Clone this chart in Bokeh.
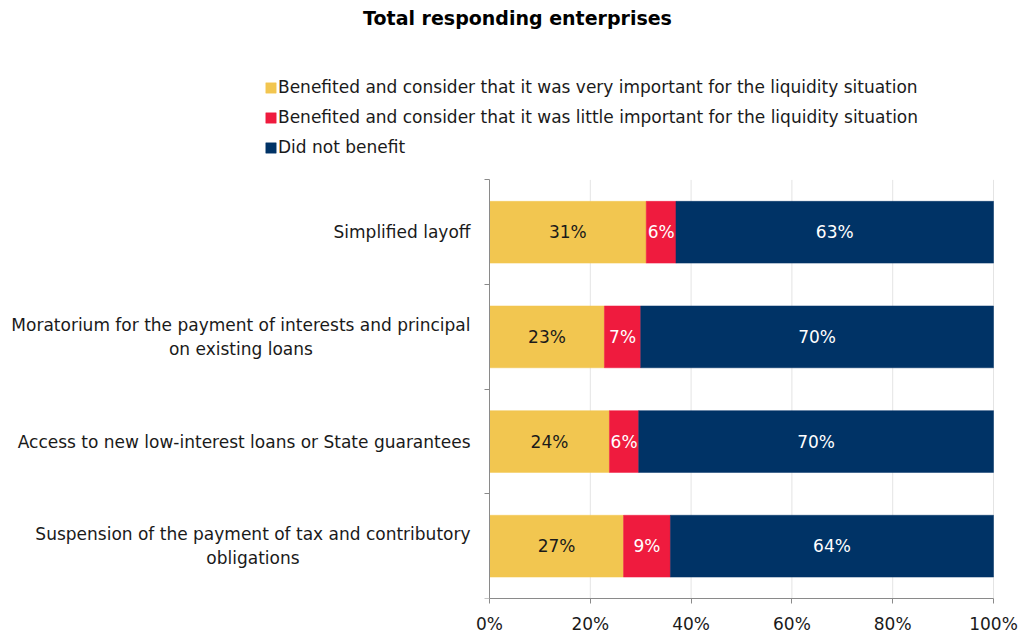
from bokeh.plotting import figure
from bokeh.models import (Range1d, FixedTicker, Legend, LegendItem, ColumnDataSource)
from bokeh.core.properties import value
from bokeh.embed import file_html
from bokeh.resources import INLINE

# ---------------- data ----------------
title_text = "Total responding enterprises"
categories = [
    "Simplified layoff",
    "Moratorium for the payment of interests and principal\non existing loans",
    "Access to new low-interest loans or State guarantees",
    "Suspension of the payment of tax and contributory\nobligations",
]
series_names = [
    "Benefited and consider that it was very important for the liquidity situation",
    "Benefited and consider that it was little important for the liquidity situation",
    "Did not benefit",
]
very_important = [31.1, 22.8, 23.8, 26.6]
little_important = [5.9, 7.2, 5.8, 9.3]
did_not_benefit = [63.0, 70.0, 70.4, 64.1]
x_ticks = [0, 20, 40, 60, 80, 100]
x_tick_labels = ["0%", "20%", "40%", "60%", "80%", "100%"]

colors = ["#F2C650", "#EF1B3E", "#003366"]
label_colors = ["#1a1a1a", "#ffffff", "#ffffff"]
FONT = "DejaVu Sans"
FS = "17px"
TXT = "#1a1a1a"
GREY = "#8a8a8a"

# ---------------- layout ----------------
W, H = 1021, 636
X0, X100 = 489, 993          # pixel positions of 0% and 100%
Y_TOP, Y_BOT = 180, 600      # pixel extent of the category band
n = len(categories)
px_x = (X100 - X0) / 100.0
px_y = (Y_BOT - Y_TOP) / n
R_BORDER, B_BORDER = 20, 36
frame_w = W - R_BORDER

p = figure(width=W, height=H,
           x_range=Range1d(-X0 / px_x, (frame_w - X0) / px_x),
           y_range=Range1d(0, Y_BOT / px_y),
           y_axis_location="right",
           output_backend="svg", toolbar_location=None,
           min_border_left=0, min_border_right=R_BORDER, min_border_top=0, min_border_bottom=B_BORDER)
p.outline_line_color = None
p.xgrid.visible = False
p.ygrid.visible = False

ys = [n - 0.5 - i for i in range(n)]
series = [very_important, little_important, did_not_benefit]

# vertical grid lines (only over the category band)
p.segment(x0=x_ticks[1:], x1=x_ticks[1:], y0=[0] * 5, y1=[n] * 5, line_color="#e4e4e4", line_width=1)

renderers = []
lefts = [0.0] * n
for k, vals in enumerate(series):
    rights = [l + v for l, v in zip(lefts, vals)]
    src = ColumnDataSource(dict(y=ys, left=lefts, right=rights,
                                mid=[(l + r) / 2 for l, r in zip(lefts, rights)],
                                txt=[f"{round(v)}%" for v in vals]))
    r = p.hbar(y="y", left="left", right="right", height=62 / px_y, source=src,
               fill_color=colors[k], line_color=colors[k], line_width=0.5)
    renderers.append(r)
    p.text(x="mid", y="y", text="txt", source=src, text_align="center", text_baseline="middle",
           text_font=value(FONT), text_font_size=value(FS), text_color=label_colors[k])
    lefts = rights

# x axis
p.xaxis.bounds = (0, 100)
p.xaxis.ticker = FixedTicker(ticks=x_ticks)
p.xaxis.major_label_overrides = {t: l for t, l in zip(x_ticks, x_tick_labels)}
p.xaxis.axis_line_color = GREY
p.xaxis.major_tick_line_color = GREY
p.xaxis.major_tick_out = 5
p.xaxis.major_tick_in = 0
p.xaxis.minor_tick_line_color = None
p.xaxis.major_label_standoff = 10
p.xaxis.major_label_text_font = FONT
p.xaxis.major_label_text_font_size = FS
p.xaxis.major_label_text_color = TXT

# y axis (category boundaries), drawn at x = 0
p.yaxis.fixed_location = 0
p.yaxis.bounds = (0, n)
p.yaxis.ticker = FixedTicker(ticks=list(range(n + 1)))
p.yaxis.major_label_overrides = {i: "" for i in range(n + 1)}
p.yaxis.axis_line_color = GREY
p.yaxis.major_tick_line_color = GREY
p.yaxis.major_tick_out = 0
p.yaxis.major_tick_in = 5
p.yaxis.minor_tick_line_color = None

# category labels
cat_src = ColumnDataSource(dict(x=[(470 - X0) / px_x] * n, y=ys, text=categories))
p.text(x="x", y="y", text="text", source=cat_src, text_align="center", anchor=value("center_right"),
       text_baseline="middle", text_font=value(FONT), text_font_size=value(FS),
       text_color=TXT, text_line_height=1.2)

# title
p.text(x=[(517 - X0) / px_x], y=[(Y_BOT - 18) / px_y], text=[title_text], text_align="center",
       text_baseline="middle", text_font=value(FONT), text_font_size=value("19px"),
       text_font_style="bold", text_color="#000000")

legend = Legend(items=[LegendItem(label=s, renderers=[r]) for s, r in zip(series_names, renderers)],
                location=(264, Y_BOT - 159), orientation="vertical",
                glyph_width=13, glyph_height=13, label_standoff=1, label_height=20, spacing=10,
                padding=0, margin=0, border_line_color=None, background_fill_alpha=0,
                label_text_font=FONT, label_text_font_size=FS, label_text_color=TXT)
p.add_layout(legend)

open("out.html", "w").write(file_html(p, INLINE))
